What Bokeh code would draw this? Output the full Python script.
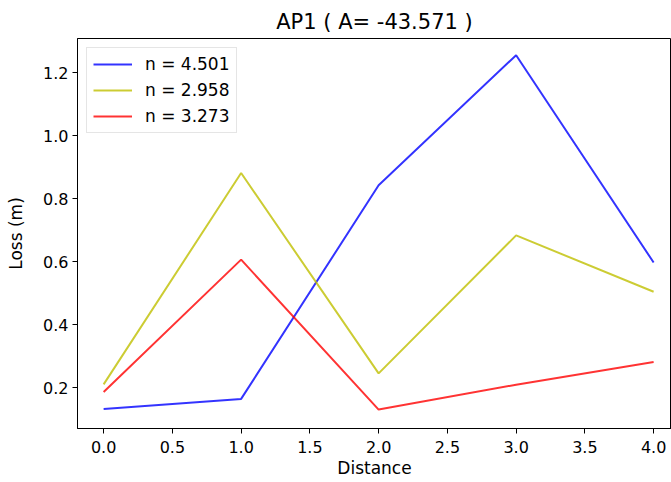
from bokeh.plotting import figure
from bokeh.models import FixedTicker, PrintfTickFormatter, Range1d, Legend, LegendItem
from bokeh.embed import file_html
from bokeh.resources import INLINE

# Data
distance = [0, 1, 2, 3, 4]
loss_n4501 = [0.133, 0.165, 0.843, 1.256, 0.598]
loss_n2958 = [0.211, 0.882, 0.246, 0.684, 0.505]
loss_n3273 = [0.187, 0.607, 0.131, 0.210, 0.282]
series_labels = ["n = 4.501", "n = 2.958", "n = 3.273"]
series_colors = ["#0000ff", "#bfbf00", "#ff0000"]
x_ticks = [0, 0.5, 1, 1.5, 2, 2.5, 3, 3.5, 4]
y_ticks = [0.2, 0.4, 0.6, 0.8, 1.0, 1.2]
title_text = "AP1 ( A= -43.571 )"

FONT = "DejaVu Sans"

p = figure(width=671, height=482, output_backend="svg", toolbar_location=None,
           x_range=Range1d(-0.19, 4.13), y_range=Range1d(0.071, 1.309),
           min_border_left=77, min_border_right=0, min_border_top=38, min_border_bottom=54,
           title=title_text)

p.title.text_font = FONT
p.title.text_font_size = "21px"
p.title.text_font_style = "normal"
p.title.align = "center"
p.title.text_color = "#000000"

p.xgrid.visible = False
p.ygrid.visible = False
p.outline_line_color = "#000000"
p.outline_line_width = 1
p.background_fill_color = "white"
p.border_fill_color = "white"

renderers = []
for ys, col in zip([loss_n4501, loss_n2958, loss_n3273], series_colors):
    r = p.line(distance, ys, line_color=col, line_width=2, line_alpha=0.8)
    renderers.append(r)

legend = Legend(items=[LegendItem(label=l, renderers=[r]) for l, r in zip(series_labels, renderers)],
                location="top_left")
legend.label_text_font = FONT
legend.label_text_font_size = "17px"
legend.label_text_color = "#000000"
legend.glyph_width = 39
legend.glyph_height = 20
legend.label_height = 20
legend.label_standoff = 13
legend.spacing = 6
legend.padding = 6
legend.margin = 9
legend.border_line_color = "#cccccc"
legend.border_line_width = 1
legend.background_fill_alpha = 0.8
p.add_layout(legend)

p.xaxis.ticker = FixedTicker(ticks=x_ticks)
p.yaxis.ticker = FixedTicker(ticks=y_ticks)
p.xaxis.formatter = PrintfTickFormatter(format="%.1f")
p.yaxis.formatter = PrintfTickFormatter(format="%.1f")
p.xaxis.axis_label = "Distance"
p.yaxis.axis_label = "Loss (m)"

for ax in (p.xaxis, p.yaxis):
    ax.axis_label_text_font = FONT
    ax.axis_label_text_font_size = "17px"
    ax.axis_label_text_font_style = "normal"
    ax.axis_label_text_color = "#000000"
    ax.major_label_text_font = FONT
    ax.major_label_text_font_size = "16px"
    ax.major_label_text_color = "#000000"
    ax.major_tick_out = 5
    ax.major_tick_in = 0
    ax.minor_tick_out = 0
    ax.minor_tick_in = 0
    ax.major_tick_line_color = "#000000"
    ax.axis_line_color = "#000000"

p.xaxis.major_label_standoff = 7
p.yaxis.major_label_standoff = 4
p.xaxis.axis_label_standoff = 2
p.yaxis.axis_label_standoff = 14

open("out.html", "w").write(file_html(p, INLINE))
